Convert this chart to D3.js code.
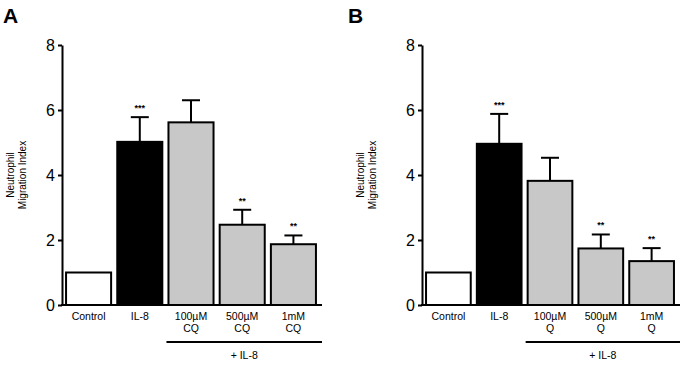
<!DOCTYPE html>
<html>
<head>
<meta charset="utf-8">
<script src="https://cdn.jsdelivr.net/npm/d3@7"></script>
<style>
  body { margin: 0; background: #fff; }
  text { font-family: "Liberation Sans", Arial, sans-serif; }
</style>
</head>
<body>
<svg width="685" height="365"></svg>
<script>
// categories, two text lines each
var catsA = [["Control"], ["IL-8"], ["100µM", "CQ"], ["500µM", "CQ"], ["1mM", "CQ"]];
var catsB = [["Control"], ["IL-8"], ["100µM", "Q"], ["500µM", "Q"], ["1mM", "Q"]];
// mean values and upper error bar ends
var meanA = [1.0, 5.02, 5.62, 2.47, 1.87];
var errA  = [1.0, 5.78, 6.3, 2.93, 2.14];
var meanB = [1.0, 4.96, 3.82, 1.74, 1.35];
var errB  = [1.0, 5.88, 4.53, 2.17, 1.75];
var starsA = ["", "***", "", "**", "**"];
var starsB = ["", "***", "", "**", "**"];
var yTicks = [0, 2, 4, 6, 8];
var fills = ["#ffffff", "#000000", "#c8c8c8", "#c8c8c8", "#c8c8c8"];

var svg = d3.select('svg');

var drawPanel = (ox, letter, cats, means, errs, stars, axisX, xEnd, titleX) => {
	var top = 45, bottom = 305;
	var g = svg.append('g');

	var yscale = d3.scaleLinear().domain([0, 8]).range([bottom, top]);
	var xscale = d3.scaleBand()
		.domain(d3.range(cats.length))
		.range([axisX + 2, xEnd - 4])
		.paddingInner(0.12)
		.paddingOuter(0.04);

	// panel letter
	g.append('text')
		.attr('x', ox + 3).attr('y', 23)
		.style('font-size', '21px').style('font-weight', 'bold')
		.text(letter);

	// y axis title
	var ty = g.append('text')
		.attr('transform', `translate(${ox + titleX},175) rotate(-90)`)
		.attr('text-anchor', 'middle')
		.style('font-size', '10px');
	ty.append('tspan').attr('x', 0).attr('dy', 0).text('Neutrophil');
	ty.append('tspan').attr('x', 0).attr('dy', '1.2em').text('Migration Index');

	var inner = g.append('g').attr('transform', `translate(${ox},0)`);

	// bars
	inner.selectAll('rect.bar').data(means).enter()
		.append('rect')
		.attr('class', 'bar')
		.attr('x', (d, i) => xscale(i))
		.attr('y', d => yscale(d))
		.attr('width', xscale.bandwidth())
		.attr('height', d => bottom - yscale(d))
		.attr('fill', (d, i) => fills[i])
		.attr('stroke', '#000')
		.attr('stroke-width', 2);

	// error bars (upper only)
	var eb = inner.selectAll('g.err').data(d3.range(cats.length).filter(i => errs[i] > means[i]))
		.enter().append('g').attr('class', 'err');
	eb.append('line')
		.attr('x1', i => xscale(i) + xscale.bandwidth() / 2)
		.attr('x2', i => xscale(i) + xscale.bandwidth() / 2)
		.attr('y1', i => yscale(means[i]))
		.attr('y2', i => yscale(errs[i]))
		.attr('stroke', '#000').attr('stroke-width', 2);
	eb.append('line')
		.attr('x1', i => xscale(i) + xscale.bandwidth() / 2 - 9)
		.attr('x2', i => xscale(i) + xscale.bandwidth() / 2 + 9)
		.attr('y1', i => yscale(errs[i]))
		.attr('y2', i => yscale(errs[i]))
		.attr('stroke', '#000').attr('stroke-width', 2);

	// significance stars
	inner.selectAll('text.star').data(stars).enter()
		.append('text')
		.attr('class', 'star')
		.attr('x', (d, i) => xscale(i) + xscale.bandwidth() / 2)
		.attr('y', (d, i) => yscale(errs[i]) - 6)
		.attr('text-anchor', 'middle')
		.style('font-size', '9px').style('font-weight', 'bold')
		.text(d => d);

	// y axis
	var yaxis = inner.append('g')
		.attr('transform', `translate(${axisX},0)`)
		.call(d3.axisLeft(yscale).tickValues(yTicks).tickSize(4).tickSizeOuter(0).tickPadding(3));
	yaxis.select('.domain').attr('stroke-width', 2);
	yaxis.selectAll('.tick line').attr('stroke-width', 2);
	yaxis.selectAll('.tick text')
		.style('font-size', '16px')
		.attr('font-family', null)
		.attr('dy', '0.36em');

	// x axis line
	inner.append('line')
		.attr('x1', axisX - 1).attr('x2', xEnd)
		.attr('y1', bottom).attr('y2', bottom)
		.attr('stroke', '#000').attr('stroke-width', 2);

	// category labels
	var cl = inner.selectAll('text.cat').data(cats).enter()
		.append('text')
		.attr('class', 'cat')
		.attr('text-anchor', 'middle')
		.style('font-size', '10.5px');
	cl.each(function(d, i) {
		var t = d3.select(this);
		d.forEach((s, j) => {
			t.append('tspan')
				.attr('x', xscale(i) + xscale.bandwidth() / 2)
				.attr('y', 320 + j * 12)
				.text(s);
		});
	});

	// treatment bracket
	inner.append('line')
		.attr('x1', xscale(2) - 2).attr('x2', xEnd)
		.attr('y1', 342).attr('y2', 342)
		.attr('stroke', '#000').attr('stroke-width', 2);
	inner.append('text')
		.attr('x', (xscale(2) - 2 + xEnd) / 2)
		.attr('y', 359)
		.attr('text-anchor', 'middle')
		.style('font-size', '10.5px')
		.text('+ IL-8');
};

drawPanel(0, 'A', catsA, meanA, errA, starsA, 62, 322, 14);
drawPanel(345, 'B', catsB, meanB, errB, starsB, 77, 335, 19);
</script>
</body>
</html>
